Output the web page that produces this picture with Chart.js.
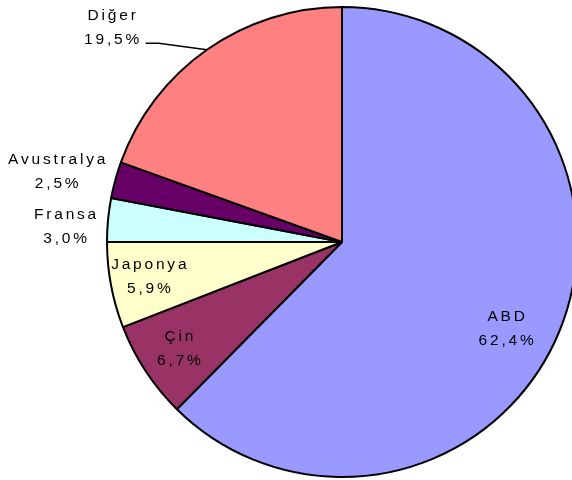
<!DOCTYPE html>
<html>
<head>
<meta charset="utf-8">
<script src="https://cdn.jsdelivr.net/npm/chart.js@4"></script>
<style>
  html, body { margin: 0; padding: 0; background: #fff; overflow: hidden; }
  #wrap { position: relative; width: 684px; height: 484px; }
</style>
</head>
<body>
<div id="wrap"><canvas id="chart"></canvas></div>
<script>
// data
const countries = ['ABD', 'Çin', 'Japonya', 'Fransa', 'Avustralya', 'Diğer']
const shares = [62.4, 6.7, 5.9, 3.0, 2.5, 19.5]
const colours = ['#9999FF', '#993366', '#FFFFCC', '#CCFFFF', '#660066', '#FF8080']

// where each label sits: [fraction of radius, angle nudge in degrees]
const labelAt = [[0.79, 5.5], [0.83, 0], [0.835, 0.5], [1.18, -2.3], [1.25, -1.5], [1.34, -11.9]]

const sliceLabels = {
    id: 'sliceLabels',
    afterDatasetsDraw(chart) {
        const ctx = chart.ctx
        const arcs = chart.getDatasetMeta(0).data
        ctx.save()
        ctx.font = '15.5px "Liberation Sans", Arial, sans-serif'
        ctx.letterSpacing = '2.8px'
        ctx.textAlign = 'center'
        ctx.textBaseline = 'middle'
        ctx.fillStyle = '#000'
        arcs.forEach((arc, i) => {
            const mid = (arc.startAngle + arc.endAngle) / 2
            const a = mid + labelAt[i][1] * Math.PI / 180
            const r = arc.outerRadius * labelAt[i][0]
            const x = arc.x + Math.cos(a) * r
            const y = arc.y + Math.sin(a) * r
            const pct = shares[i].toFixed(1).replace('.', ',') + '%'
            ctx.fillText(countries[i], x + 1.4, y - 12)
            ctx.fillText(pct, x + 1.4, y + 12)
            if (countries[i] == 'Diğer') {
                // leader line from slice edge to the label
                ctx.beginPath()
                ctx.lineWidth = 1.5
                ctx.strokeStyle = '#000'
                ctx.moveTo(arc.x + Math.cos(mid) * arc.outerRadius, arc.y + Math.sin(mid) * arc.outerRadius)
                ctx.lineTo(x + 47, y + 16)
                ctx.lineTo(x + 34, y + 16)
                ctx.stroke()
            }
        })
        ctx.restore()
    }
}

new Chart(document.getElementById('chart'), {
    type: 'pie',
    data: {
        labels: countries,
        datasets: [{
            data: shares,
            backgroundColor: colours,
            borderColor: '#000',
            borderWidth: 2
        }]
    },
    options: {
        responsive: true,
        maintainAspectRatio: false,
        animation: false,
        layout: { padding: 6 },
        plugins: {
            legend: { display: false },
            tooltip: { enabled: false }
        }
    },
    plugins: [sliceLabels]
})
</script>
</body>
</html>
